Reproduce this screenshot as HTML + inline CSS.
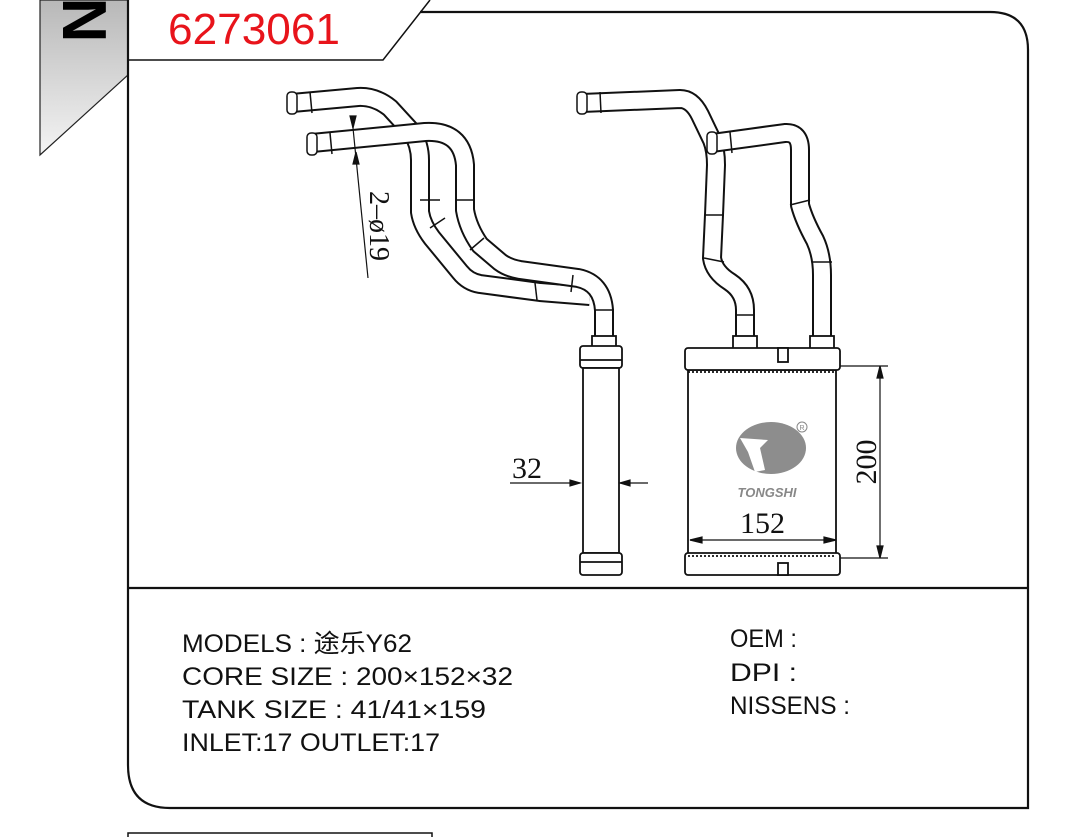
<!DOCTYPE html>
<html><head><meta charset="utf-8"><style>
body{margin:0;background:#fff;width:1071px;height:837px;overflow:hidden}
svg{display:block}
.t{font-family:"Liberation Sans","Noto Sans CJK SC",sans-serif;font-size:25px;fill:#111}
</style></head><body>
<svg width="1071" height="837" viewBox="0 0 1071 837">
<defs>
<linearGradient id="g" x1="0" y1="0" x2="0" y2="1">
<stop offset="0" stop-color="#b8b8b8"/><stop offset="1" stop-color="#f4f4f4"/></linearGradient>
</defs>
<polygon points="40,0 128,0 128,75 40,155" fill="url(#g)" stroke="#222" stroke-width="1.2"/>
<text x="85" y="20" font-family="Liberation Sans,sans-serif" font-weight="bold" font-size="62" fill="#000" transform="rotate(90 85 20)" text-anchor="middle" dy="22">N</text>
<path d="M128,0 L128,765 Q128,808 170,808 L1028,808 L1028,50 Q1028,12 990,12 L420,12" fill="none" stroke="#111" stroke-width="2.2"/>
<path d="M128,60 L383,60 L430,0" fill="none" stroke="#111" stroke-width="1.5"/>
<line x1="128" y1="588" x2="1028" y2="588" stroke="#111" stroke-width="2.2"/>
<text x="168" y="44" font-family="Liberation Sans,sans-serif" font-size="44" fill="#e8141b" textLength="172" lengthAdjust="spacingAndGlyphs">6273061</text>
<rect x="128" y="833" width="304" height="10" fill="none" stroke="#111" stroke-width="1.5"/>

<g fill="none" stroke-linejoin="round" stroke-linecap="butt">
<path d="M292,103 L358,97 Q375,96 390,108 L412,132 Q420,145 420,160 L420,212 Q422,225 432,238 L460,272 Q468,282 480,284 L540,292 L590,296" stroke="#111" stroke-width="20"/>
<path d="M292,103 L358,97 Q375,96 390,108 L412,132 Q420,145 420,160 L420,212 Q422,225 432,238 L460,272 Q468,282 480,284 L540,292 L590,296" stroke="#fff" stroke-width="16"/>
<path d="M312,143 L425,132 Q462,130 465,165 L465,210 Q468,228 480,245 L500,262 Q508,268 520,270 L578,278 Q602,283 604,310 L604,345" stroke="#111" stroke-width="20"/>
<path d="M312,143 L425,132 Q462,130 465,165 L465,210 Q468,228 480,245 L500,262 Q508,268 520,270 L578,278 Q602,283 604,310 L604,345" stroke="#fff" stroke-width="16"/>
<path d="M582,103 L680,99 Q692,99 700,115 L712,140 Q716,150 716,165 L714,215 L712,258 Q714,272 730,282 Q745,292 745,310 L745,345" stroke="#111" stroke-width="20"/>
<path d="M582,103 L680,99 Q692,99 700,115 L712,140 Q716,150 716,165 L714,215 L712,258 Q714,272 730,282 Q745,292 745,310 L745,345" stroke="#fff" stroke-width="16"/>
<path d="M712,143 L785,133 Q800,132 800,150 L800,205 Q804,220 815,240 Q822,255 822,275 L822,345" stroke="#111" stroke-width="20"/>
<path d="M712,143 L785,133 Q800,132 800,150 L800,205 Q804,220 815,240 Q822,255 822,275 L822,345" stroke="#fff" stroke-width="16"/>
</g>
<g stroke="#111" stroke-width="1.5" fill="#fff">
<rect x="287" y="92" width="10" height="22" rx="4"/>
<rect x="307" y="133" width="10" height="22" rx="4"/>
<rect x="577" y="92" width="10" height="22" rx="4"/>
<rect x="707" y="132" width="10" height="22" rx="4"/>
<line x1="310" y1="92" x2="312" y2="113"/><line x1="330" y1="133" x2="332" y2="154"/>
<line x1="600" y1="92" x2="601" y2="113"/><line x1="730" y1="132" x2="732" y2="153"/>
<line x1="420" y1="200" x2="440" y2="200"/><line x1="455" y1="200" x2="475" y2="200"/>
<line x1="430" y1="228" x2="445" y2="218"/><line x1="470" y1="250" x2="484" y2="238"/>
<line x1="535" y1="283" x2="537" y2="300"/><line x1="573" y1="275" x2="571" y2="292"/>
<line x1="594" y1="310" x2="614" y2="310"/>
<line x1="704" y1="215" x2="724" y2="215"/><line x1="790" y1="205" x2="810" y2="200"/>
<line x1="704" y1="258" x2="724" y2="262"/><line x1="812" y1="262" x2="832" y2="262"/>
<line x1="735" y1="315" x2="755" y2="315"/>
</g>
<g stroke="#111" stroke-width="1.8" fill="#fff">
<rect x="592" y="336" width="24" height="12"/>
<rect x="580" y="346" width="42" height="22" rx="3"/>
<rect x="583" y="368" width="36" height="185"/>
<rect x="580" y="553" width="42" height="22" rx="3"/>
<line x1="580" y1="360" x2="622" y2="360"/><line x1="580" y1="562" x2="622" y2="562"/>
</g>
<g stroke="#111" stroke-width="1.8" fill="#fff">
<rect x="733" y="336" width="24" height="14"/>
<rect x="810" y="336" width="24" height="14"/>
<rect x="688" y="370" width="148" height="185"/>
<rect x="685" y="348" width="155" height="22" rx="3"/>
<rect x="685" y="553" width="155" height="22" rx="3"/>
<rect x="778" y="348" width="10" height="14"/>
<rect x="778" y="563" width="10" height="12"/>
<line x1="688" y1="372" x2="836" y2="372" stroke-dasharray="2 2"/>
<line x1="688" y1="556" x2="836" y2="556" stroke-dasharray="2 2"/>
</g>
<ellipse cx="771" cy="448" rx="35" ry="26" fill="#8d8d8d"/>
<polygon points="740,438 768,440 760,448 765,470 755,472 748,452" fill="#fff"/>
<text x="767" y="497" font-family="Liberation Sans,sans-serif" font-style="italic" font-weight="bold" font-size="13" fill="#888" text-anchor="middle">TONGSHI</text>
<circle cx="802" cy="427" r="5" fill="none" stroke="#888" stroke-width="1"/>
<text x="802" y="430" font-size="7" font-family="Liberation Sans,sans-serif" fill="#888" text-anchor="middle">R</text>
<g stroke="#111" stroke-width="1.2" fill="#111">
<line x1="510" y1="483" x2="580" y2="483"/><line x1="620" y1="483" x2="648" y2="483"/>
<polygon points="580,483 570,480 570,486"/><polygon points="620,483 630,480 630,486"/>
<line x1="690" y1="540" x2="836" y2="540"/>
<polygon points="690,540 702,537 702,543"/><polygon points="836,540 824,537 824,543"/>
<line x1="840" y1="366" x2="888" y2="366"/><line x1="840" y1="558" x2="888" y2="558"/>
<line x1="880" y1="366" x2="880" y2="558"/>
<polygon points="880,366 877,378 883,378"/><polygon points="880,558 877,546 883,546"/>
<line x1="352" y1="118" x2="368" y2="278"/>
<polygon points="353,128 350,116 356,116"/>
<polygon points="356,152 353,164 359,164"/>
</g>
<g font-family="Liberation Serif,serif" font-size="30" fill="#111">
<text x="512" y="478">32</text>
<text x="740" y="533">152</text>
<text x="876" y="462" transform="rotate(-90 876 462)" text-anchor="middle">200</text>
<text x="370" y="226" font-size="28" transform="rotate(90 370 226)" text-anchor="middle">2–ø19</text>
</g>
<text class="t" x="182" y="652" textLength="230" lengthAdjust="spacingAndGlyphs">MODELS :  途乐Y62</text>
<text class="t" x="182" y="685" textLength="331" lengthAdjust="spacingAndGlyphs">CORE SIZE : 200×152×32</text>
<text class="t" x="182" y="718" textLength="304" lengthAdjust="spacingAndGlyphs">TANK SIZE : 41/41×159</text>
<text class="t" x="182" y="751" textLength="258" lengthAdjust="spacingAndGlyphs">INLET:17  OUTLET:17</text>
<text class="t" x="730" y="647" textLength="67" lengthAdjust="spacingAndGlyphs">OEM :</text>
<text class="t" x="730" y="681" textLength="67" lengthAdjust="spacingAndGlyphs">DPI :</text>
<text class="t" x="730" y="714" textLength="120" lengthAdjust="spacingAndGlyphs">NISSENS :</text>
</svg>
</body></html>
